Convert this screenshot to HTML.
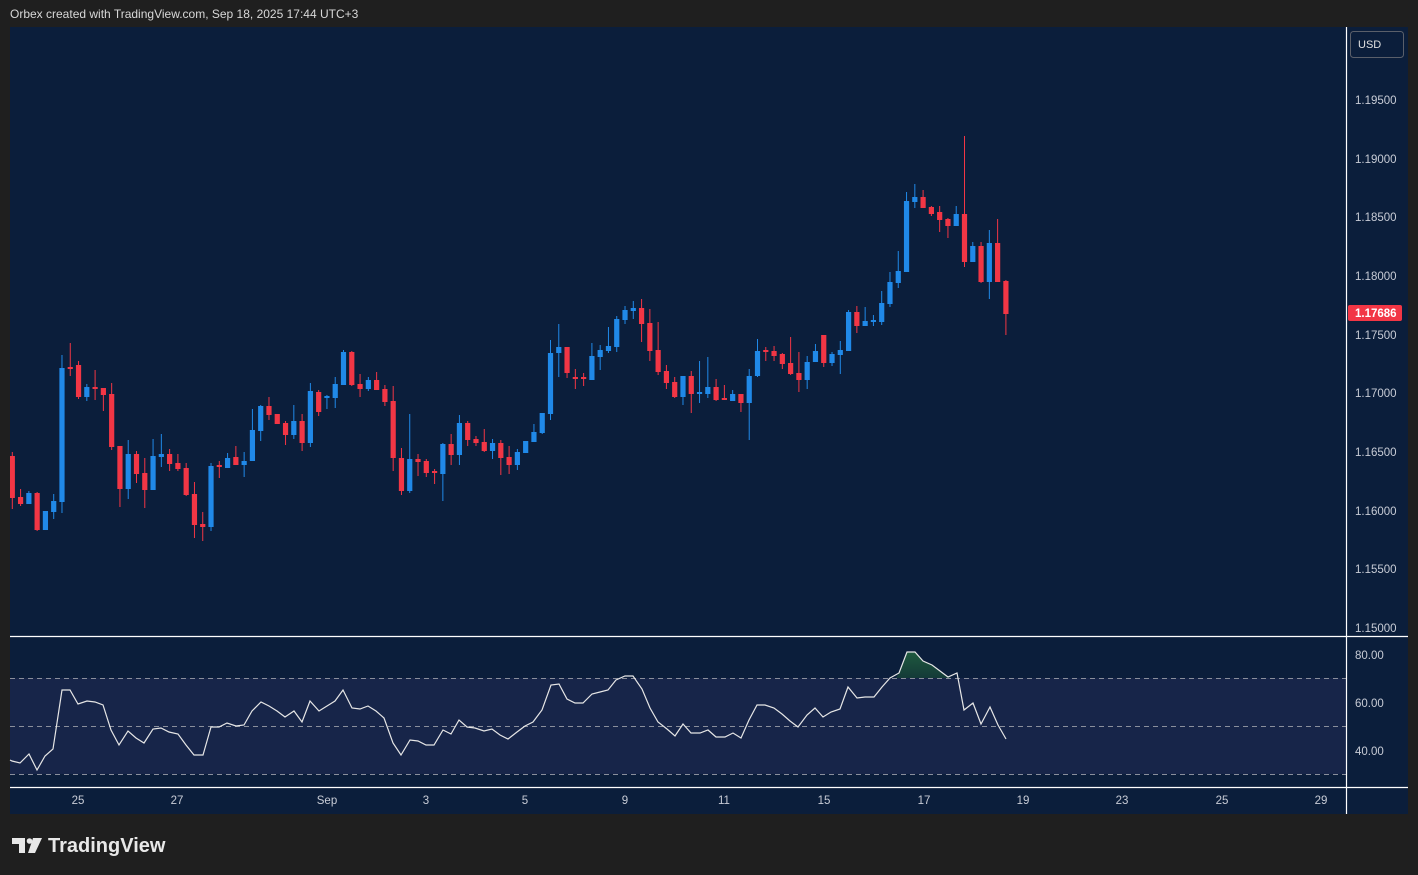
<!DOCTYPE html>
<html><head><meta charset="utf-8"><style>
html,body{margin:0;padding:0;background:#1f1f1f;width:1418px;height:875px;overflow:hidden;font-family:"Liberation Sans",sans-serif}
svg{position:absolute;left:0;top:0}
</style></head><body>
<svg id="s" width="1418" height="875" xmlns="http://www.w3.org/2000/svg">
<defs><linearGradient id="g" x1="0" y1="0" x2="0" y2="1"><stop offset="0" stop-color="#1f5a3e"/><stop offset="1" stop-color="#143a38"/></linearGradient></defs>
<rect x="0" y="0" width="1418" height="875" fill="#1f1f1f"/>
<text x="10" y="18" fill="#d8d8d8" font-size="12">Orbex created with TradingView.com, Sep 18, 2025 17:44 UTC+3</text>
<rect x="10" y="27" width="1398" height="787" fill="#0b1e3b"/>
<rect x="10" y="678" width="1336" height="96" fill="#172549"/>
<g stroke="#8a8f9c" stroke-dasharray="5,4" stroke-width="1">
<line x1="10" y1="678.5" x2="1346" y2="678.5"/><line x1="10" y1="726.5" x2="1346" y2="726.5"/><line x1="10" y1="774.5" x2="1346" y2="774.5"/></g>
<path d="M896,678 L899,673 L907,652 L915,652 L923,661 L932,665 L940,671 L948,677 L951,678 Z" fill="url(#g)"/>
<polyline fill="none" stroke="#e6e6e6" stroke-width="1.2" points="10,760 12,761 20,763 29,754 37,770 45,756 53,749 62,690 70,690 78,704 87,701 95,702 103,705 111,730 119,745 128,731 136,738 144,743 153,729 161,728 169,732 178,734 186,745 194,755 203,755 211,727 219,727 227,723 236,726 244,725 252,711 261,702 269,706 277,711 285,717 294,711 302,722 310,701 319,711 327,706 335,701 343,690 352,708 360,709 368,706 376,711 384,718 393,743 401,755 410,740 418,741 426,745 434,745 443,730 451,734 459,720 467,727 475,728 484,731 492,729 500,735 508,739 517,732 525,726 533,722 542,710 551,685 559,684 567,699 575,703 583,703 592,694 600,692 608,690 616,680 625,676 633,676 642,689 650,708 658,722 667,729 675,736 683,724 691,733 700,733 708,730 716,737 725,737 733,733 741,738 749,720 757,705 765,705 774,708 782,714 790,721 798,727 807,715 815,708 823,717 831,712 840,709 848,687 857,698 865,697 874,697 882,687 890,678 899,673 907,652 915,652 923,661 932,665 940,671 948,677 957,673 964,710 973,703 981,724 990,707 998,725 1006,739"/>
<g id="c"></g>
<g stroke="#ffffff" stroke-width="1.2">
<line x1="1346.5" y1="27" x2="1346.5" y2="814"/>
<line x1="10" y1="636.5" x2="1408" y2="636.5"/>
<line x1="10" y1="787.5" x2="1408" y2="787.5"/></g>
<g fill="#c8ccd6" font-size="11.5">
<text x="1355" y="104">1.19500</text><text x="1355" y="163">1.19000</text><text x="1355" y="221">1.18500</text><text x="1355" y="280">1.18000</text><text x="1355" y="339">1.17500</text><text x="1355" y="397">1.17000</text><text x="1355" y="456">1.16500</text><text x="1355" y="515">1.16000</text><text x="1355" y="573">1.15500</text><text x="1355" y="632">1.15000</text>
<text x="1355" y="659">80.00</text><text x="1355" y="707">60.00</text><text x="1355" y="755">40.00</text>
</g>
<g fill="#c8ccd6" font-size="11.5" text-anchor="middle">
<text x="78" y="804">25</text><text x="177" y="804">27</text><text x="327" y="804">Sep</text><text x="426" y="804">3</text><text x="525" y="804">5</text><text x="625" y="804">9</text><text x="724" y="804">11</text><text x="824" y="804">15</text><text x="924" y="804">17</text><text x="1023" y="804">19</text><text x="1122" y="804">23</text><text x="1222" y="804">25</text><text x="1321" y="804">29</text>
</g>
<rect x="1348" y="305" width="54" height="16" rx="2" fill="#f23645"/>
<text x="1355" y="317" fill="#ffffff" font-size="11.5" font-weight="bold">1.17686</text>
<rect x="1350.5" y="31.5" width="53" height="26" rx="3" fill="#0b1e3b" stroke="#5a5f6a"/>
<text x="1358" y="48" fill="#e0e0e0" font-size="11">USD</text>
<path d="M12,838 h13 v15 h-6 v-9 h-7 z M33,838 h9 l-7,15 h-7 z" fill="#e8e8e8"/>
<circle cx="29.5" cy="841" r="2.8" fill="#e8e8e8"/>
<text x="48" y="852" fill="#e8e8e8" font-size="20" font-weight="bold">TradingView</text>
</svg>
<script>
var B="#2089e8",R="#f23645";
var d=[[R,456,498,452,509],[R,497,504,489,506],[B,493,504,491,504],[R,493,530,492,531],[B,511,530,511,530],[B,501,512,494,519],[B,368,502,355,513],[R,367,369,343,376],[R,365,397,361,399],[B,387,397,384,401],[R,387,389,370,400],[R,388,395,388,411],[R,394,447,383,450],[R,446,489,446,507],[B,454,489,440,499],[R,454,474,451,483],[R,473,490,458,508],[B,456,490,439,490],[B,454,457,434,467],[R,454,464,449,471],[R,463,469,454,471],[R,468,495,463,496],[R,494,525,482,538],[R,524,527,512,541],[B,466,527,463,531],[R,465,467,461,478],[B,458,468,453,468],[R,457,465,446,465],[B,461,465,452,477],[B,430,461,409,461],[B,406,431,405,441],[R,406,415,397,420],[R,414,424,414,424],[R,423,435,421,445],[B,421,435,405,439],[R,421,443,414,451],[B,391,443,383,447],[R,392,412,390,416],[B,396,398,395,409],[B,384,398,377,408],
[B,352,385,350,385],[R,352,385,351,386],[R,384,389,374,397],[B,380,389,377,391],[R,380,390,372,390],[R,389,402,385,406],[R,401,458,386,471],[R,458,491,448,495],[B,459,491,414,493],[R,459,462,454,476],[R,461,473,459,477],[R,471,473,469,484],[B,444,474,443,501],[R,444,455,434,465],[B,423,455,415,465],[R,423,440,421,446],[R,439,443,436,446],[R,442,451,429,452],[B,443,451,439,459],[R,443,458,440,475],[R,457,465,446,474],[B,452,465,449,470],[B,441,453,441,453],[B,432,442,424,442],[B,413,433,413,434],[B,353,414,340,420],[B,347,353,324,377],[R,347,373,347,378],[R,377,379,369,389],[R,377,379,373,386],[B,356,380,343,380],[B,350,357,345,370],[B,346,351,327,353],[B,319,347,316,352],[B,310,320,306,324],[B,308,311,301,319],[R,308,324,299,342],[R,323,351,309,361],[R,350,372,322,375],[R,371,383,365,389],
[R,382,397,377,398],[B,376,397,376,405],[R,376,394,371,413],[B,392,394,361,403],[B,387,394,357,398],[R,387,400,379,401],[R,398,400,385,400],[B,394,401,390,401],[R,394,403,394,412],[B,376,403,369,440],[B,351,376,339,377],[R,350,352,347,361],[R,351,356,346,361],[R,354,364,353,369],[R,363,374,337,375],[R,373,380,352,392],[B,362,380,356,389],[B,351,362,344,362],[R,335,363,335,367],[B,354,363,352,366],[B,350,355,341,374],[B,312,351,310,351],[R,312,326,306,333],[B,321,326,307,326],[B,320,322,315,326],[B,303,322,291,325],[B,282,304,272,307],[B,271,283,251,288],[B,201,272,192,272],[B,197,202,184,208],[R,197,208,190,208],[R,207,214,206,216],[R,212,220,206,232],[R,219,226,218,238],[B,214,226,206,226],[R,214,262,136,267],[B,246,262,242,262],[R,246,282,242,283],[B,243,282,230,299],[R,243,282,219,282],[R,281,314,280,335]];
var g=document.getElementById("c"),h="";
for(var i=0;i<d.length;i++){var x=12.3+i*8.28,c=d[i];var t=c[1],b=c[2];if(b-t<1.5){b=t+1.5;}
h+='<line x1="'+x+'" x2="'+x+'" y1="'+c[3]+'" y2="'+c[4]+'" stroke="'+c[0]+'" stroke-width="1"/>';
var l=Math.max(x-2.6,10);h+='<rect x="'+l+'" y="'+t+'" width="'+(x+2.6-l)+'" height="'+(b-t)+'" fill="'+c[0]+'"/>';}
g.innerHTML=h;
</script>
</body></html>
